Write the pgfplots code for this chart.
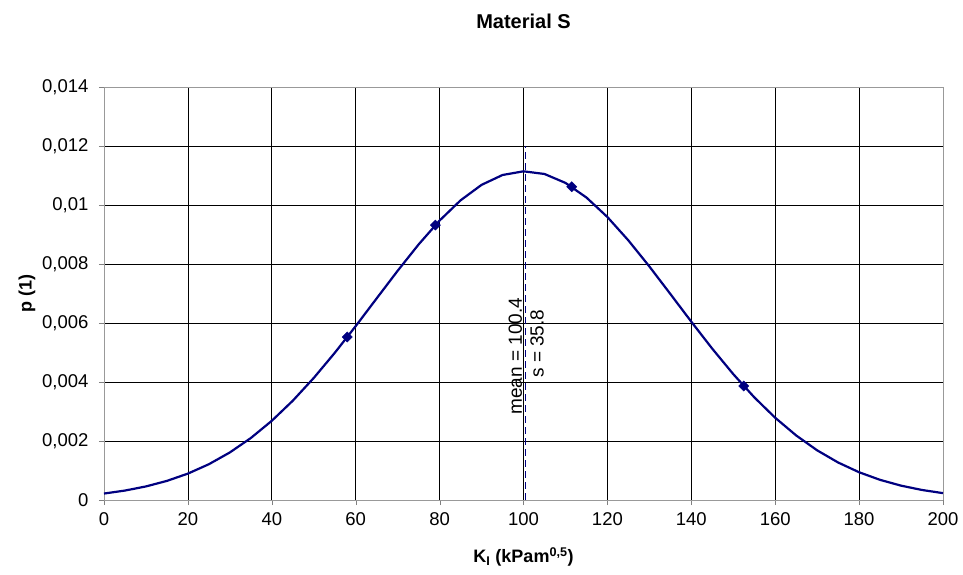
\documentclass[border=0pt]{standalone}
\usepackage{pgfplots}
\pgfplotsset{compat=1.18}
\usepackage{fontspec}
\setmainfont{Liberation Sans}
\definecolor{curve}{HTML}{000080}
\begin{document}
\begin{tikzpicture}
\begin{axis}[
  scale only axis,
  width=839pt, height=413pt,
  xmin=0, xmax=200, ymin=0, ymax=0.014,
  xtick={0,20,...,200},
  ytick={0,0.002,0.004,0.006,0.008,0.01,0.012,0.014},
  scaled y ticks=false,
  yticklabel style={xshift=-7pt, /pgf/number format/.cd, fixed, precision=3, use comma},
  /pgf/number format/assume math mode=true,
  tick label style={font=\fontsize{18.5}{20}\selectfont},
  xticklabel style={yshift=-4pt},
  grid=major,
  major grid style={black, line width=0.7pt},
  tick align=outside,
  major tick length=5pt,
  xtick pos=bottom, ytick pos=left,
  axis line style={gray!80},
  axis x line*=bottom, axis y line*=left,
  xlabel={\textbf{K\textsubscript{I} (kPam\textsuperscript{0,5})}},
  ylabel={\textbf{p (1)}},
  label style={font=\fontsize{18}{20}\selectfont},
  xlabel style={yshift=-15pt},
  ylabel style={yshift=0pt},
  title={\textbf{Material S}},
  title style={font=\fontsize{20}{22}\selectfont, yshift=49pt},
  clip=false,
]
\draw[gray!80, line width=0.7pt] (rel axis cs:0,1) -- (rel axis cs:1,1) -- (rel axis cs:1,0);
\addplot[color=curve, line width=2.2pt, no marks] coordinates {
(0,0.0002183) (5,0.0003199) (10,0.0004598) (15,0.0006477) (20,0.0008948)
(25,0.0012128) (30,0.0016118) (35,0.0021005) (40,0.0026847) (45,0.0033650)
(50,0.0041365) (55,0.0049864) (60,0.0058947) (65,0.0068345) (70,0.0077700)
(75,0.0086635) (80,0.0094731) (85,0.0101583) (90,0.0106826) (95,0.0110170)
(100,0.0111423) (105,0.0110514) (110,0.0107494) (115,0.0102539) (120,0.0095922)
(125,0.0087997) (130,0.0079170) (135,0.0069850) (140,0.0060438) (145,0.0051284)
(150,0.0042674) (155,0.0034824) (160,0.0027873) (165,0.0021878) (170,0.0016836)
(175,0.0012710) (180,0.0009406) (185,0.0006828) (190,0.0004862) (195,0.0003395)
(200,0.0002324)
};
\addplot[only marks, mark=square*, mark size=3.6pt, mark options={rotate=45}, color=curve] coordinates {
(58,0.005526) (79,0.00932) (111.5,0.01062) (152.5,0.003865)
};
\addplot[color=curve, line width=1.2pt, dash pattern=on 7pt off 4pt, no marks] coordinates {(100.4,0) (100.4,0.012)};
\node[rotate=90, anchor=south, font=\fontsize{19}{21}\selectfont, inner sep=3pt] at (axis cs:100.4,0.00488) {mean = 100.4};
\node[rotate=90, anchor=north, font=\fontsize{19}{21}\selectfont, inner sep=5pt] at (axis cs:100.4,0.0053) {s = 35.8};
\end{axis}
\pgfresetboundingbox
\path (-104pt,-75pt) rectangle (859pt,500pt);
\end{tikzpicture}
\end{document}
